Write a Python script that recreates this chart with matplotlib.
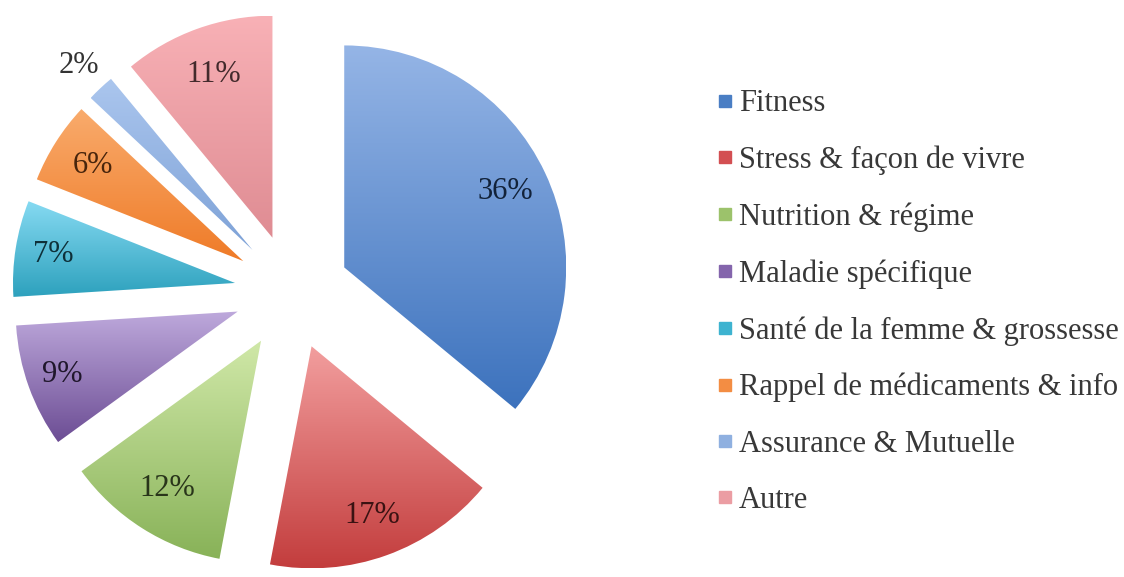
import numpy as np
import matplotlib.pyplot as plt
from matplotlib.colors import LinearSegmentedColormap, to_rgb
from matplotlib.lines import Line2D

categories = ['Fitness', 'Stress & façon de vivre', 'Nutrition & régime',
              'Maladie spécifique', 'Santé de la femme & grossesse',
              'Rappel de médicaments & info', 'Assurance & Mutuelle', 'Autre']
values = [36, 17, 12, 9, 7, 6, 2, 11]

# (light top, dark bottom) gradient per slice
top_colors = ['#95b5e6', '#f29e9e', '#d0e8a8', '#bea9dc', '#86daf2', '#f9ab6c', '#abc6ee', '#f8b1b6']
bottom_colors = ['#3c72bd', '#c33d3d', '#88b258', '#6c4d94', '#2da1bd', '#ef7b28', '#7ea2d7', '#df8c93']
legend_colors = ['#4a7ec4', '#d34f52', '#9cc26b', '#8465ac', '#3db3d0', '#f38d43', '#8fb0e0', '#eb9da3']

explode = 0.26
label_dist = [0.8, 0.81, 0.79, 0.84, 0.83, 0.8, 1.14, 0.78]

plt.rcParams['font.family'] = ['Liberation Serif', 'DejaVu Serif']

fig = plt.figure(figsize=(11.24, 5.77), dpi=100)
L = 1.4
ppu = 222.0
cx, cy = 292, 285
half = L * ppu
ax = fig.add_axes([(cx - half) / 1124, (cy - half) / 577, 2 * half / 1124, 2 * half / 577])

wedges, _ = ax.pie(values, startangle=90, counterclock=False,
                   explode=[explode] * len(values), radius=1.0,
                   wedgeprops=dict(linewidth=0))

for i, w in enumerate(wedges):
    w.set_facecolor('none')
    w.set_edgecolor('none')
    bb = w.get_path().get_extents()
    cmap = LinearSegmentedColormap.from_list('g', [bottom_colors[i], top_colors[i]])
    grad = np.linspace(0, 1, 256).reshape(-1, 1)
    im = ax.imshow(grad, cmap=cmap, origin='lower', aspect='auto',
                   extent=[bb.x0, bb.x1, bb.y0, bb.y1], zorder=1)
    im.set_clip_path(w)

    ang = np.deg2rad((w.theta1 + w.theta2) / 2)
    d = explode + label_dist[i]
    if label_dist[i] > 1:
        col = '#333333'
    else:
        col = tuple(c * 0.3 for c in to_rgb(bottom_colors[i]))
    ax.text(d * np.cos(ang), d * np.sin(ang), '{}%'.format(values[i]),
            ha='center', va='center', fontsize=22, color=col, zorder=3)

ax.set_aspect('equal')
ax.set_xlim(-L, L)
ax.set_ylim(-L, L)
ax.axis('off')

handles = [Line2D([], [], linestyle='none', marker='s', markersize=9,
                  markerfacecolor=c, markeredgecolor=c) for c in legend_colors]
fig.legend(handles, categories, loc='upper left', bbox_to_anchor=(704 / 1124, 1 - 77 / 577),
           frameon=False, fontsize=22, labelspacing=0.895, handlelength=0.6,
           handletextpad=0.15, labelcolor='#383838', borderaxespad=0)

fig.savefig('out.png', dpi=100)
